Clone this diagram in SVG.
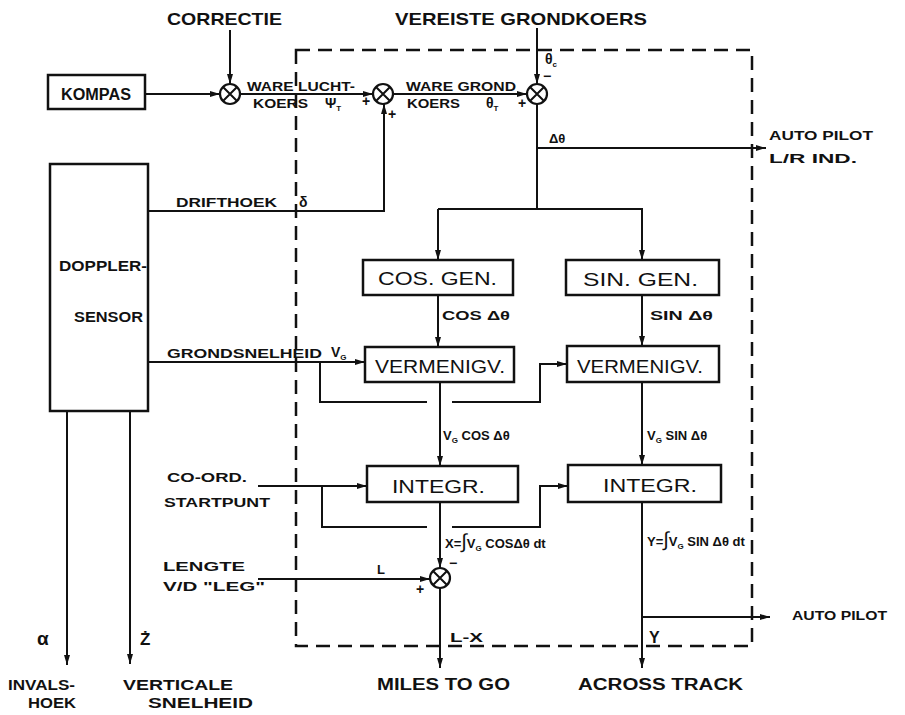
<svg xmlns="http://www.w3.org/2000/svg" width="905" height="715" viewBox="0 0 905 715">
<style>
.ln{stroke:#111;stroke-width:2;fill:none}
.dash{stroke:#111;stroke-width:2.5;fill:none;stroke-dasharray:14 8}
.box{fill:#fff;stroke:#111;stroke-width:2.5}
.sj{fill:#fff;stroke:#111;stroke-width:2.2}
.t{font-family:"Liberation Sans",Arial,sans-serif;font-weight:bold;fill:#111}
.s11{font-size:12px}
.s12{font-size:13px}
.s13{font-size:14px}
.s15{font-size:16px}
.s16{font-size:17px}
.s17{font-size:19px;font-weight:normal}
</style>
<defs>
<marker id="a" viewBox="0 0 10 6" refX="10" refY="3" markerWidth="11" markerHeight="6" orient="auto" markerUnits="userSpaceOnUse">
<path d="M0,0 L10,3 L0,6 z" fill="#111"/>
</marker>
<g id="x">
<circle class="sj" cx="0" cy="0" r="10"/>
<path class="ln" d="M-7,-7 L7,7 M-7,7 L7,-7"/>
</g>
</defs>
<rect width="905" height="715" fill="#fff"/>

<!-- dashed boundary -->
<path id="boundary" class="dash" d="M296,50 H752 V646 H296 Z"/>

<g id="connectors">
<path class="ln" marker-end="url(#a)" d="M145,94 H220"/>
<path class="ln" marker-end="url(#a)" d="M230,30 V84"/>
<path class="ln" marker-end="url(#a)" d="M240,94 H373"/>
<path class="ln" marker-end="url(#a)" d="M393,94 H527"/>
<path class="ln" marker-end="url(#a)" d="M537,28 V84"/>
<path class="ln" d="M537,104 V209"/>
<path class="ln" marker-end="url(#a)" d="M537,148 H766"/>
<path class="ln" marker-end="url(#a)" d="M438,209 H642 V260"/>
<path class="ln" marker-end="url(#a)" d="M438,209 V260"/>
<path class="ln" marker-end="url(#a)" d="M148,211 H384 V104"/>
<path class="ln" marker-end="url(#a)" d="M438,295 V347"/>
<path class="ln" marker-end="url(#a)" d="M642,295 V346"/>
<path class="ln" marker-end="url(#a)" d="M148,362 H365"/>
<path class="ln" d="M320,362 V402 H427"/>
<path class="ln" marker-end="url(#a)" d="M452,402 H540 V364 H567"/>
<path class="ln" marker-end="url(#a)" d="M440,382 V466"/>
<path class="ln" marker-end="url(#a)" d="M642,382 V465"/>
<path class="ln" marker-end="url(#a)" d="M258,486 H367"/>
<path class="ln" d="M322,486 V527 H427"/>
<path class="ln" marker-end="url(#a)" d="M452,527 H540 V486 H568"/>
<path class="ln" marker-end="url(#a)" d="M440,502 V568"/>
<path class="ln" marker-end="url(#a)" d="M258,579 H430"/>
<path class="ln" marker-end="url(#a)" d="M440,588 V668"/>
<path class="ln" marker-end="url(#a)" d="M642,502 V668"/>
<path class="ln" marker-end="url(#a)" d="M642,617 H770"/>
<path class="ln" marker-end="url(#a)" d="M67,411 V665"/>
<path class="ln" marker-end="url(#a)" d="M130,411 V664"/>
</g>

<g id="kompas">
<rect class="box" x="48" y="75" width="97" height="34"/>
<text class="t s15" x="61" y="100" textLength="70" lengthAdjust="spacingAndGlyphs">KOMPAS</text>
</g>
<g id="sum1"><use href="#x" x="230" y="94"/></g>
<g id="sum2"><use href="#x" x="383" y="94"/></g>
<g id="sum3"><use href="#x" x="537" y="94"/></g>
<g id="sum4"><use href="#x" x="440" y="578"/></g>

<g id="doppler">
<rect class="box" x="50" y="164" width="98" height="247"/>
<text class="t s13" x="59" y="271" textLength="88" lengthAdjust="spacingAndGlyphs">DOPPLER-</text>
<text class="t s13" x="74" y="322" textLength="69" lengthAdjust="spacingAndGlyphs">SENSOR</text>
</g>
<g id="cosgen">
<rect class="box" x="363" y="260" width="150" height="35"/>
<text class="t s17" x="378" y="285" textLength="119" lengthAdjust="spacingAndGlyphs">COS. GEN.</text>
</g>
<g id="singen">
<rect class="box" x="566" y="260" width="153" height="35"/>
<text class="t s17" x="583" y="286" textLength="115" lengthAdjust="spacingAndGlyphs">SIN. GEN.</text>
</g>
<g id="verm1">
<rect class="box" x="365" y="347" width="149" height="35"/>
<text class="t s17" x="375" y="373" textLength="130" lengthAdjust="spacingAndGlyphs">VERMENIGV.</text>
</g>
<g id="verm2">
<rect class="box" x="567" y="346" width="152" height="36"/>
<text class="t s17" x="577" y="373" textLength="126" lengthAdjust="spacingAndGlyphs">VERMENIGV.</text>
</g>
<g id="integr1">
<rect class="box" x="367" y="466" width="151" height="36"/>
<text class="t s17" x="392" y="493" textLength="93" lengthAdjust="spacingAndGlyphs">INTEGR.</text>
</g>
<g id="integr2">
<rect class="box" x="568" y="465" width="153" height="37"/>
<text class="t s17" x="603" y="492" textLength="94" lengthAdjust="spacingAndGlyphs">INTEGR.</text>
</g>

<g id="labels">
<text class="t s16" x="167" y="25" textLength="115" lengthAdjust="spacingAndGlyphs">CORRECTIE</text>
<text class="t s16" x="395" y="25" textLength="252" lengthAdjust="spacingAndGlyphs">VEREISTE GRONDKOERS</text>
<text class="t s11" x="247" y="91" textLength="108" lengthAdjust="spacingAndGlyphs">WARE LUCHT-</text>
<text class="t s11" x="253" y="108" textLength="55" lengthAdjust="spacingAndGlyphs">KOERS</text>
<text class="t s13" x="325" y="108">Ψ<tspan font-size="8" dy="3">T</tspan></text>
<text class="t s13" x="362" y="106">+</text>
<text class="t s13" x="388" y="119">+</text>
<text class="t s11" x="406" y="91" textLength="110" lengthAdjust="spacingAndGlyphs">WARE GROND</text>
<text class="t s11" x="407" y="108" textLength="53" lengthAdjust="spacingAndGlyphs">KOERS</text>
<text class="t s13" x="486" y="108">θ<tspan font-size="8" dy="3">T</tspan></text>
<text class="t s13" x="518" y="108">+</text>
<text class="t s13" x="545" y="64">θ<tspan font-size="8" dy="3">c</tspan></text>
<text class="t s13" x="543" y="81">−</text>
<text class="t s12" x="549" y="143">Δθ</text>
<text class="t s11" x="769" y="140" textLength="104" lengthAdjust="spacingAndGlyphs">AUTO PILOT</text>
<text class="t s11" x="769" y="163" textLength="88" lengthAdjust="spacingAndGlyphs">L/R IND.</text>
<text class="t s11" x="176" y="207" textLength="101" lengthAdjust="spacingAndGlyphs">DRIFTHOEK</text>
<text class="t s13" x="299" y="207">δ</text>
<text class="t s11" x="442" y="320" textLength="68" lengthAdjust="spacingAndGlyphs">COS Δθ</text>
<text class="t s11" x="650" y="320" textLength="63" lengthAdjust="spacingAndGlyphs">SIN Δθ</text>
<text class="t s11" x="167" y="358" textLength="155" lengthAdjust="spacingAndGlyphs">GRONDSNELHEID</text>
<text class="t s13" x="331" y="357">V<tspan font-size="8" dy="3">G</tspan></text>
<text class="t s12" x="443" y="440">V<tspan font-size="8" dy="3">G</tspan><tspan dy="-3"> COS Δθ</tspan></text>
<text class="t s12" x="647" y="440">V<tspan font-size="8" dy="3">G</tspan><tspan dy="-3"> SIN Δθ</tspan></text>
<text class="t s11" x="167" y="482" textLength="80" lengthAdjust="spacingAndGlyphs">CO-ORD.</text>
<text class="t s11" x="164" y="507" textLength="106" lengthAdjust="spacingAndGlyphs">STARTPUNT</text>
<text class="t s12" x="445" y="548">X=<tspan font-size="20" font-weight="normal">∫</tspan>V<tspan font-size="8" dy="3">G</tspan><tspan dy="-3"> COSΔθ dt</tspan></text>
<text class="t s12" x="647" y="546">Y=<tspan font-size="20" font-weight="normal">∫</tspan>V<tspan font-size="8" dy="3">G</tspan><tspan dy="-3"> SIN Δθ dt</tspan></text>
<text class="t s13" x="449" y="568">−</text>
<text class="t s13" x="416" y="594">+</text>
<text class="t s12" x="377" y="574">L</text>
<text class="t s12" x="163" y="571" textLength="82" lengthAdjust="spacingAndGlyphs">LENGTE</text>
<text class="t s12" x="163" y="591" textLength="102" lengthAdjust="spacingAndGlyphs">V/D "LEG"</text>
<text class="t s12" x="450" y="642" textLength="33" lengthAdjust="spacingAndGlyphs">L-X</text>
<text class="t s15" x="649" y="643">Y</text>
<text class="t s11" x="792" y="620" textLength="95" lengthAdjust="spacingAndGlyphs">AUTO PILOT</text>
<text class="t s15" x="377" y="690" textLength="133" lengthAdjust="spacingAndGlyphs">MILES TO GO</text>
<text class="t s15" x="578" y="690" textLength="165" lengthAdjust="spacingAndGlyphs">ACROSS TRACK</text>
<text class="t" x="37" y="645" font-size="19">α</text>
<text class="t s16" x="140" y="645">Ż</text>
<text class="t s13" x="8" y="690" textLength="67" lengthAdjust="spacingAndGlyphs">INVALS-</text>
<text class="t s13" x="28" y="708" textLength="48" lengthAdjust="spacingAndGlyphs">HOEK</text>
<text class="t s13" x="123" y="690" textLength="110" lengthAdjust="spacingAndGlyphs">VERTICALE</text>
<text class="t s13" x="148" y="708" textLength="105" lengthAdjust="spacingAndGlyphs">SNELHEID</text>
</g>
</svg>
